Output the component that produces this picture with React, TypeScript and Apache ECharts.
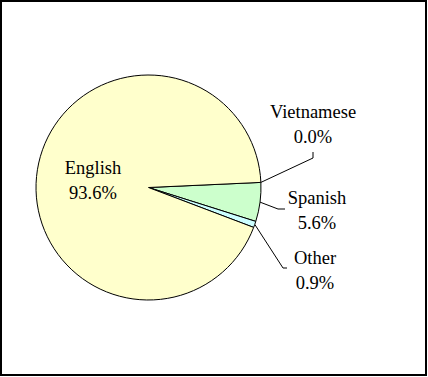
import React, { useEffect, useRef } from "react";
import * as echarts from "echarts";

const categories = ["Vietnamese", "Spanish", "Other", "English"];
const values = [0.0, 5.6, 0.9, 93.6];
const colors = ["#99CCFF", "#CCFFCC", "#CCFFFF", "#FFFFCC"];

// label anchor positions (layout) for outside labels: [cx, cy]
const labelPos: Record<number, [number, number]> = {
  0: [313, 124.5],
  1: [317, 210.5],
  2: [315, 270.5],
  3: [93, 180],
};
// leader line mid / end offsets relative to label center
const lineOffsets: Record<number, [[number, number], [number, number]]> = {
  0: [[0, 33.5], [0, 27.5]],
  1: [[-39, -1.5], [-32, -1.5]],
  2: [[-32, -2.5], [-28, -2.5]],
};

export default function App() {
  const ref = useRef<HTMLDivElement>(null);
  useEffect(() => {
    document.body.style.margin = "0";
    const chart = echarts.init(ref.current!, null, { renderer: "svg" });
    const font = "'Liberation Serif', 'Times New Roman', serif";
    chart.setOption({
      animation: false,
      backgroundColor: "#ffffff",
      graphic: [
        {
          type: "rect",
          shape: { x: 1, y: 1, width: 425, height: 374 },
          style: { fill: "none", stroke: "#000", lineWidth: 2 },
          silent: true,
        },
      ],
      series: [
        {
          type: "pie",
          center: [148.5, 187.5],
          radius: 112.5,
          startAngle: 2.6,
          clockwise: true,
          avoidLabelOverlap: false,
          itemStyle: { borderColor: "#000", borderWidth: 1 },
          label: {
            show: true,
            position: "outside",
            fontFamily: font,
            fontSize: 18.5,
            lineHeight: 25,
            color: "#000",
            align: "center",
            formatter: (p: any) => `${p.name}\n${Number(p.value).toFixed(1)}%`,
          },
          labelLine: {
            show: true,
            lineStyle: { color: "#000", width: 1 },
          },
          emphasis: { disabled: true },
          labelLayout: (params: any) => {
            const i = params.dataIndex;
            const pos = labelPos[i];
            if (!pos) return {};
            const off = lineOffsets[i];
            if (!off) {
              return { x: pos[0], y: pos[1], align: "center", verticalAlign: "middle" };
            }
            const p0 = params.labelLinePoints ? params.labelLinePoints[0] : [0, 0];
            return {
              x: pos[0],
              y: pos[1],
              align: "center",
              verticalAlign: "middle",
              labelLinePoints: [
                [p0[0], p0[1]],
                [pos[0] + off[0][0], pos[1] + off[0][1]],
                [pos[0] + off[1][0], pos[1] + off[1][1]],
              ],
            };
          },
          data: categories.map((name, i) => ({
            name,
            value: values[i],
            itemStyle: { color: colors[i] },
            ...(name === "English"
              ? { label: { position: "inside" }, labelLine: { show: false } }
              : {}),
          })),
        },
      ],
    });
    return () => chart.dispose();
  }, []);
  return <div ref={ref} style={{ width: 428, height: 377 }} />;
}
